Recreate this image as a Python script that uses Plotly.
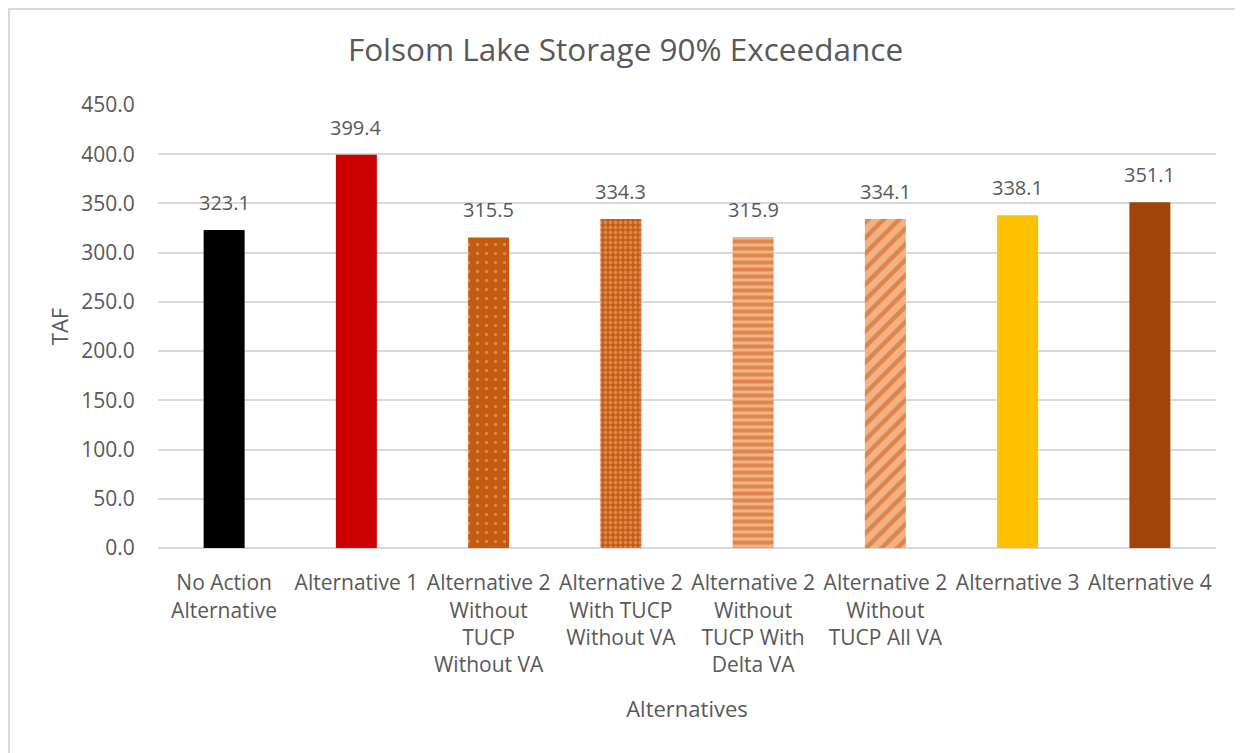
import plotly.graph_objects as go

# data
alternatives = [
    "No Action<br>Alternative",
    "Alternative 1",
    "Alternative 2<br>Without<br>TUCP<br>Without VA",
    "Alternative 2<br>With TUCP<br>Without VA",
    "Alternative 2<br>Without<br>TUCP With<br>Delta VA",
    "Alternative 2<br>Without<br>TUCP All VA",
    "Alternative 3",
    "Alternative 4",
]
storage_taf = [323.1, 399.4, 315.5, 334.3, 315.9, 334.1, 338.1, 351.1]

# bar fills (Excel-style patterns approximated with plotly patterns)
bar_colors = ["#000000", "#CC0000", "#C55A11", "#C55A11", "#F4B183", "#F4B183", "#FFC000", "#A0440A"]
pattern_shapes = ["", "", ".", ".", "-", "/", "", ""]
pattern_fg = ["#000000", "#CC0000", "#F4B183", "#F4B183", "#C55A11", "#C55A11", "#FFC000", "#A0440A"]
pattern_size = [8, 8, 9, 5, 7, 11, 8, 8]
pattern_solidity = [0.3, 0.3, 0.12, 0.45, 0.55, 0.4, 0.3, 0.3]

FONT = "Open Sans"
GREY = "#595959"

fig = go.Figure()
for name, val, color, shape, fg, size, solid in zip(
    alternatives, storage_taf, bar_colors, pattern_shapes, pattern_fg, pattern_size, pattern_solidity
):
    fig.add_trace(
        go.Bar(
            x=[name],
            y=[val],
            marker=dict(
                color=color,
                line=dict(width=0),
                pattern=dict(shape=shape, fgcolor=fg, size=size, solidity=solid, fillmode="overlay"),
            ),
            showlegend=False,
        )
    )

# value labels above the bars
for name, val in zip(alternatives, storage_taf):
    fig.add_annotation(
        x=name, y=val, text=f"{val:.1f}", showarrow=False,
        yanchor="bottom", yshift=12,
        font=dict(family=FONT, size=20, color=GREY),
    )

fig.update_layout(
    width=1235,
    height=745,
    margin=dict(l=150, r=27, t=97, b=205),
    paper_bgcolor="white",
    plot_bgcolor="white",
    barmode="overlay",
    bargap=0.69,
    font=dict(family=FONT, color=GREY),
    title=dict(
        text="Folsom Lake Storage 90% Exceedance",
        x=0.5,
        xanchor="center",
        y=1 - 42 / 745,
        yanchor="middle",
        font=dict(family=FONT, size=31.5, color=GREY),
    ),
    # thin outer chart border
    shapes=[
        dict(
            type="rect", xref="paper", yref="paper",
            x0=-150 / 1058 + 0.001, x1=1.2,
            y0=-0.6, y1=1 + 96 / 443,
            line=dict(color="#D9D9D9", width=2),
            layer="below",
        )
    ],
)

fig.update_xaxes(
    tickangle=0,
    tickfont=dict(family=FONT, size=21, color=GREY),
    showline=False,
    ticks="outside",
    ticklen=16,
    tickcolor="white",
    title=dict(text="Alternatives", font=dict(family=FONT, size=22, color=GREY), standoff=24),
)
fig.update_yaxes(
    range=[0, 450],
    dtick=50,
    tickformat=".1f",
    tickfont=dict(family=FONT, size=21, color=GREY),
    showgrid=True,
    gridcolor="#D9D9D9",
    gridwidth=1.5,
    zeroline=True,
    zerolinecolor="#D9D9D9",
    zerolinewidth=1.5,
    ticks="outside",
    ticklen=18,
    tickcolor="white",
    title=dict(text="TAF", font=dict(family=FONT, size=22, color=GREY), standoff=6),
)

fig.write_html("out.html")
